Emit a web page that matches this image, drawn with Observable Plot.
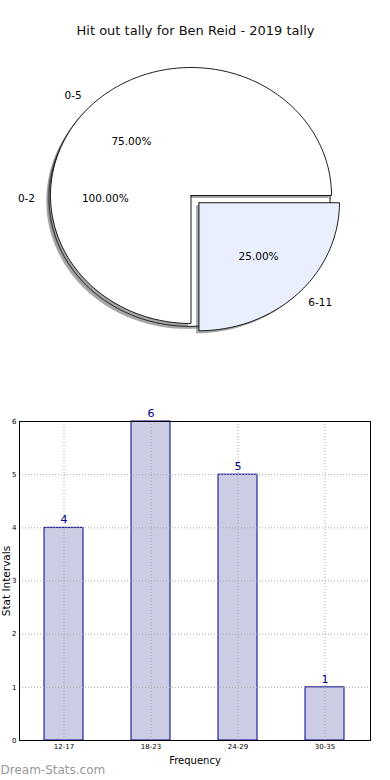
<!DOCTYPE html>
<html>
<head>
<meta charset="utf-8">
<script src="https://cdn.jsdelivr.net/npm/d3@7"></script>
<script src="https://cdn.jsdelivr.net/npm/@observablehq/plot@0.6"></script>
<style>
  html, body { margin: 0; padding: 0; background: #fff; }
  body { width: 390px; height: 780px; overflow: hidden; font-family: "DejaVu Sans", sans-serif; }
  svg { display: block; }
</style>
</head>
<body>
<div id="pie"></div>
<div id="bars"></div>
<script>
// ---- data ----
const chartTitle = "Hit out tally for Ben Reid - 2019 tally";
const innerLabels = ["0-2"];
const innerValues = [100];
const outerLabels = ["0-5", "6-11"];
const outerValues = [75, 25];
const outerExplode = [0, 0.08];
const outerColors = ["#ffffff", "#e9effc"];
const barCategories = ["12-17", "18-23", "24-29", "30-35"];
const barValues = [4, 6, 5, 1];
const yTicks = [0, 1, 2, 3, 4, 5, 6];
const xAxisLabel = "Frequency";
const yAxisLabel = "Stat Intervals";
const watermark = "Dream-Stats.com";

// ---- pie geometry (unit radius, angles CCW from 3 o'clock like matplotlib) ----
function buildWedges(labels, values, explode, pie, cx0, cy0) {
  const total = d3.sum(values);
  let start = 0;
  return labels.map((label, i) => {
    const sweep = values[i] / total * 360;
    const a0 = start, a1 = start + sweep;
    start = a1;
    const mid = (a0 + a1) / 2 * Math.PI / 180;
    const e = explode ? explode[i] : 0;
    const cx = cx0 + e * Math.cos(mid), cy = cy0 + e * Math.sin(mid);
    const pts = [];
    if (sweep < 360) pts.push({x: cx, y: cy});
    const n = Math.max(2, Math.ceil(sweep));
    for (let k = 0; k <= n; k++) {
      const a = (a0 + (a1 - a0) * k / n) * Math.PI / 180;
      pts.push({x: cx + Math.cos(a), y: cy + Math.sin(a)});
    }
    pts.push({...pts[0]});
    return {
      id: pie + "-" + i, label, pct: (values[i] / total * 100).toFixed(2) + "%",
      pts, cx, cy, mid
    };
  });
}
const inner = buildWedges(innerLabels, innerValues, null, "inner", -0.01, -0.022);
const outer = buildWedges(outerLabels, outerValues, outerExplode, "outer", 0, 0);

const sdx = -0.02, sdy = -0.02;
const flat = (ws, dx = 0, dy = 0) => ws.flatMap(w => w.pts.map(p => ({id: w.id, x: p.x + dx, y: p.y + dy})));
const labelPts = [...inner, ...outer].map(w => ({
  label: w.label,
  x: w.cx + 1.1 * Math.cos(w.mid), y: w.cy + 1.1 * Math.sin(w.mid),
  anchor: Math.cos(w.mid) < 0 ? "end" : "start"
}));
const pctPts = [...inner, ...outer].map(w => ({
  pct: w.pct, x: w.cx + 0.6 * Math.cos(w.mid), y: w.cy + 0.6 * Math.sin(w.mid)
}));

const pieMarks = [
  Plot.text([chartTitle], {frameAnchor: "top", lineAnchor: "middle", dy: 30, fontSize: 13, fill: "#111"}),
  Plot.line(flat(inner, sdx, sdy), {x: "x", y: "y", z: "id", fill: "#4d4d4d", fillOpacity: 0.5, stroke: "none"}),
  Plot.line(flat(inner), {x: "x", y: "y", z: "id", fill: "#ffffff", stroke: "#000", strokeWidth: 0.9}),
  Plot.line(flat(outer, sdx, sdy), {x: "x", y: "y", z: "id", fill: "#4d4d4d", fillOpacity: 0.5, stroke: "none"})
];
outer.forEach((w, i) => {
  pieMarks.push(Plot.line(w.pts, {x: "x", y: "y", fill: outerColors[i], stroke: "#000", strokeWidth: 0.9}));
});
pieMarks.push(
  Plot.text(labelPts.filter(d => d.anchor === "end"), {x: "x", y: "y", text: "label", textAnchor: "end", fontSize: 10.5, fill: "#000"}),
  Plot.text(labelPts.filter(d => d.anchor === "start"), {x: "x", y: "y", text: "label", textAnchor: "start", fontSize: 10.5, fill: "#000"}),
  Plot.text(pctPts, {x: "x", y: "y", text: "pct", fontSize: 10.5, fill: "#000"})
);

const pie = Plot.plot({
  width: 390, height: 390, margin: 0,
  style: {fontFamily: "DejaVu Sans", background: "#fff"},
  x: {domain: [-1, 1], range: [50, 331], axis: null},
  y: {domain: [-1, 1], range: [323, 67], axis: null},
  marks: pieMarks
});
document.getElementById("pie").append(pie);

// ---- bar chart ----
const barData = barCategories.map((c, i) => ({cat: c, v: barValues[i]}));
const bars = Plot.plot({
  width: 390, height: 390,
  marginTop: 31, marginBottom: 40, marginLeft: 19, marginRight: 20,
  style: {fontFamily: "DejaVu Sans", background: "#fff", overflow: "visible"},
  x: {domain: barCategories, paddingInner: 0.55, paddingOuter: 0.275, label: null},
  y: {domain: [0, 6], label: null},
  marks: [
    Plot.barY(barData, {x: "cat", y: "v", fill: "#ccccE5", stroke: "#00008b", strokeWidth: 1}),
    Plot.gridY(yTicks, {stroke: "#a8a8a8", strokeOpacity: 1, strokeDasharray: "1,2"}),
    Plot.gridX(barCategories, {stroke: "#a8a8a8", strokeOpacity: 1, strokeDasharray: "1,2"}),
    Plot.text(barData, {x: "cat", y: "v", text: d => String(d.v), dy: -8, fontSize: 11, fill: "#00008b"}),
    Plot.frame({stroke: "#000", strokeWidth: 1}),
    Plot.axisY(yTicks, {tickSize: 0, tickPadding: 3, fontSize: 7, label: null, tickFormat: d => String(d)}),
    Plot.axisX({tickSize: 0, tickPadding: 4, fontSize: 7, label: null}),
    Plot.text([xAxisLabel], {frameAnchor: "bottom", lineAnchor: "middle", dy: 20, fontSize: 10, fill: "#000"}),
    Plot.text([yAxisLabel], {frameAnchor: "left", textAnchor: "middle", lineAnchor: "middle", dx: -12.5, rotate: -90, fontSize: 10.5, fill: "#000"}),
    Plot.text([watermark], {frameAnchor: "bottom-left", lineAnchor: "middle", dx: -19, dy: 30, textAnchor: "start", fontSize: 12, fill: "#999"})
  ]
});
document.getElementById("bars").append(bars);
</script>
</body>
</html>
